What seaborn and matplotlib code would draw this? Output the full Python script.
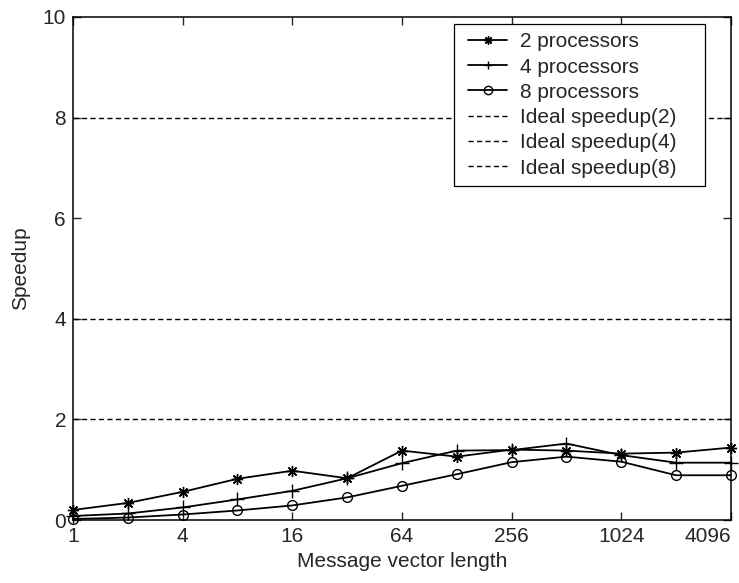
import numpy as np
import pandas as pd
import seaborn as sns
import matplotlib
matplotlib.use("Agg")
import matplotlib.pyplot as plt
from matplotlib.lines import Line2D
from matplotlib.legend_handler import HandlerLine2D

# message vector lengths (powers of two)
lengths = [1, 2, 4, 8, 16, 32, 64, 128, 256, 512, 1024, 2048, 4096]
speedup_2 = [0.20, 0.34, 0.56, 0.82, 0.98, 0.83, 1.38, 1.26, 1.40, 1.38, 1.32, 1.34, 1.44]
speedup_4 = [0.08, 0.13, 0.25, 0.41, 0.58, 0.83, 1.13, 1.38, 1.39, 1.52, 1.29, 1.14, 1.14]
speedup_8 = [0.02, 0.05, 0.11, 0.19, 0.29, 0.45, 0.68, 0.91, 1.15, 1.26, 1.16, 0.89, 0.89]
ideal = [2, 4, 8]
xticks = [1, 4, 16, 64, 256, 1024, 4096]

sns.set_style("ticks")
plt.rcParams['font.family'] = ['Liberation Sans', 'DejaVu Sans']
plt.rcParams['font.size'] = 15

fig = plt.figure(figsize=(7.39, 5.83), dpi=100)
ax = fig.add_axes([0.0988, 0.108, 0.8902, 0.863])

df = pd.DataFrame({"len": lengths, "p2": speedup_2, "p4": speedup_4, "p8": speedup_8})

sns.lineplot(data=df, x="len", y="p2", ax=ax, color="k", lw=1.3, clip_on=False,
             marker=(8, 2, 0), ms=8, mew=1.0, mec="k", label="2 processors")
sns.lineplot(data=df, x="len", y="p4", ax=ax, color="k", lw=1.3, clip_on=False,
             marker="+", ms=10, mew=1.0, mec="k", label="4 processors")
sns.lineplot(data=df, x="len", y="p8", ax=ax, color="k", lw=1.3, clip_on=False,
             marker="o", ms=7, mew=1.0, mfc="none", mec="k", label="8 processors")

for v in ideal:
    ax.axhline(v, color="k", lw=1.0, dashes=(3.7, 2.4), label="Ideal speedup(%d)" % v)

ax.set_xscale("log", base=2)
ax.set_xlim(1, 4096)
ax.set_ylim(0, 10)
ax.set_xticks(xticks)
ax.set_xticklabels([str(t) for t in xticks])
ax.get_xticklabels()[-1].set_horizontalalignment("right")
ax.minorticks_off()
ax.set_yticks([0, 2, 4, 6, 8, 10])
ax.tick_params(direction="in", length=6, width=1, top=True, right=True, labelsize=15, pad=5)
for s in ax.spines.values():
    s.set_linewidth(1.1)
    s.set_color("k")

ax.set_xlabel("Message vector length", fontsize=15, labelpad=4)
ax.set_ylabel("Speedup", fontsize=15, labelpad=9)

leg = ax.legend(loc="upper right", bbox_to_anchor=(0.579, 0.0, 0.3815, 0.986),
                mode="expand", borderaxespad=0, numpoints=1, handlelength=2.15,
                handler_map={Line2D: HandlerLine2D(xpad=0.3)},
                fancybox=False, framealpha=1, edgecolor="k", fontsize=15,
                borderpad=0.4, labelspacing=0.3, handletextpad=0.6)
leg.get_frame().set_linewidth(0.9)
for h in leg.legend_handles[:3]:
    h.set_markersize(6)

fig.savefig("out.png", dpi=100)
